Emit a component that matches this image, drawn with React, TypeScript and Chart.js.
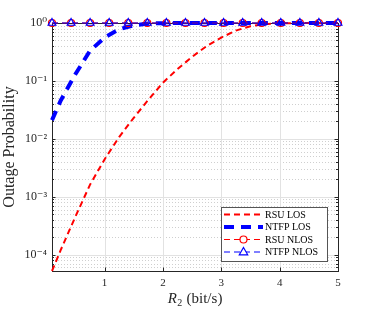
import React, { useEffect, useRef } from "react";
import { Chart, registerables } from "chart.js";

Chart.register(...registerables);

const rsuLosX = [0.1, 0.25, 0.5, 0.75, 1.0, 1.25, 1.5, 1.75, 2.0, 2.25, 2.5, 2.75, 3.0, 3.25, 3.5, 3.75, 4.0, 4.5, 5.0];
const rsuLosY = [5.2e-5, 1.2e-4, 4.5e-4, 1.6e-3, 4.4e-3, 1.07e-2, 2.3e-2, 4.7e-2, 9.3e-2, 0.16, 0.26, 0.4, 0.56, 0.74, 0.88, 0.955, 0.986, 0.999, 1.0];

const ntfpLosX = [0.1, 0.25, 0.5, 0.75, 1.0, 1.25, 1.5, 1.75, 2.0, 2.5, 3.0, 3.5, 4.0, 4.5, 5.0];
const ntfpLosY = [0.021, 0.046, 0.13, 0.33, 0.56, 0.78, 0.91, 0.977, 0.995, 1.0, 1.0, 1.0, 1.0, 1.0, 1.0];

const nlosX = [0.1, 0.427, 0.753, 1.08, 1.407, 1.733, 2.06, 2.387, 2.713, 3.04, 3.367, 3.693, 4.02, 4.347, 4.673, 5.0];
const rsuNlosY = [1, 1, 1, 1, 1, 1, 1, 1, 1, 1, 1, 1, 1, 1, 1, 1];
const ntfpNlosY = [1, 1, 1, 1, 1, 1, 1, 1, 1, 1, 1, 1, 1, 1, 1, 1];

const seriesLabels = ["RSU LOS", "NTFP LOS", "RSU NLOS", "NTFP NLOS"];
const xTicks = [1, 2, 3, 4, 5];
const yDecades = [1e-4, 1e-3, 1e-2, 1e-1, 1];
const yTickLabels = ["10\u207B\u2074", "10\u207B\u00B3", "10\u207B\u00B2", "10\u207B\u00B9", "10\u2070"];
const xTitleParts = ["R", "2", " (bit/s)"];
const yTitle = "Outage Probability";

const X_MIN = 0.1;
const X_MAX = 5;
const Y_MIN = 5.2e-5;
const Y_MAX = 1;

const FONT = "'Liberation Serif', 'DejaVu Serif', serif";
const AXIS_COLOR = "#262626";

const RED_DASH = [6, 4];
const BLUE_DASH = [10, 7];

const zip = (xs: number[], ys: number[]) => xs.map((x, i) => ({ x, y: ys[i] }));

const isDecade = (v: number) => {
  const l = Math.log10(v);
  return Math.abs(l - Math.round(l)) < 1e-6;
};

const minorValues = () => {
  const out: number[] = [];
  for (let e = -5; e <= 0; e++) {
    for (let m = 1; m <= 9; m++) {
      const v = m * Math.pow(10, e);
      if (v >= Y_MIN && v <= Y_MAX) out.push(v);
    }
  }
  return out;
};

const gridPlugin = {
  id: "matlabGrid",
  beforeDatasetsDraw(chart: any) {
    const { ctx, chartArea: a, scales } = chart;
    const xs = scales.x;
    const ys = scales.y;
    ctx.save();
    ctx.strokeStyle = "#cfcfcf";
    ctx.lineWidth = 1;
    ctx.setLineDash([1, 2]);
    for (const v of minorValues()) {
      if (isDecade(v)) continue;
      const y = Math.round(ys.getPixelForValue(v)) + 0.5;
      ctx.beginPath();
      ctx.moveTo(a.left, y);
      ctx.lineTo(a.right, y);
      ctx.stroke();
    }
    ctx.setLineDash([]);
    ctx.strokeStyle = "#e2e2e2";
    for (const v of yDecades) {
      const y = Math.round(ys.getPixelForValue(v)) + 0.5;
      ctx.beginPath();
      ctx.moveTo(a.left, y);
      ctx.lineTo(a.right, y);
      ctx.stroke();
    }
    for (const v of xTicks) {
      const x = Math.round(xs.getPixelForValue(v)) + 0.5;
      ctx.beginPath();
      ctx.moveTo(x, a.top);
      ctx.lineTo(x, a.bottom);
      ctx.stroke();
    }
    ctx.strokeStyle = AXIS_COLOR;
    ctx.lineWidth = 1;
    ctx.strokeRect(a.left + 0.5, a.top + 0.5, a.right - a.left, a.bottom - a.top);
    ctx.beginPath();
    for (const v of minorValues()) {
      const y = Math.round(ys.getPixelForValue(v)) + 0.5;
      const len = isDecade(v) ? 3.5 : 2;
      ctx.moveTo(a.left, y);
      ctx.lineTo(a.left + len, y);
      ctx.moveTo(a.right, y);
      ctx.lineTo(a.right - len, y);
    }
    for (const v of xTicks) {
      const x = Math.round(xs.getPixelForValue(v)) + 0.5;
      ctx.moveTo(x, a.bottom);
      ctx.lineTo(x, a.bottom - 3.5);
      ctx.moveTo(x, a.top);
      ctx.lineTo(x, a.top + 3.5);
    }
    ctx.stroke();
    ctx.restore();
  },
  afterDraw(chart: any) {
    const { ctx, chartArea: a } = chart;
    ctx.save();
    // x-axis title with italic R and subscript
    const big = 15;
    const small = 10;
    ctx.fillStyle = AXIS_COLOR;
    ctx.textBaseline = "alphabetic";
    ctx.textAlign = "left";
    ctx.font = "italic " + big + "px " + FONT;
    const wR = ctx.measureText(xTitleParts[0]).width;
    ctx.font = small + "px " + FONT;
    const w2 = ctx.measureText(xTitleParts[1]).width;
    ctx.font = big + "px " + FONT;
    const wRest = ctx.measureText(xTitleParts[2]).width;
    const total = wR + w2 + wRest + 1;
    const cx = (a.left + a.right) / 2;
    let x = cx - total / 2;
    const base = 303;
    ctx.font = "italic " + big + "px " + FONT;
    ctx.fillText(xTitleParts[0], x, base);
    x += wR + 0.5;
    ctx.font = small + "px " + FONT;
    ctx.fillText(xTitleParts[1], x, base + 3);
    x += w2 + 0.5;
    ctx.font = big + "px " + FONT;
    ctx.fillText(xTitleParts[2], x, base);

    // legend
    const bx = 221, by = 207, bw = 106, bh = 54;
    ctx.fillStyle = "#ffffff";
    ctx.fillRect(bx, by, bw, bh);
    ctx.strokeStyle = "#555555";
    ctx.lineWidth = 1;
    ctx.setLineDash([]);
    ctx.strokeRect(bx + 0.5, by + 0.5, bw, bh);
    const rows = [214.5, 227, 239.5, 252];
    const styles = [
      { color: "#ff0000", width: 2, dash: RED_DASH, marker: "" },
      { color: "#0000ff", width: 4, dash: BLUE_DASH, marker: "" },
      { color: "#ff0000", width: 1.2, dash: RED_DASH, marker: "circle" },
      { color: "#0000ff", width: 1.2, dash: RED_DASH, marker: "triangle" },
    ];
    chart.data.datasets.forEach((ds: any, i: number) => {
      const st = styles[i];
      const y = rows[i];
      const x0 = 224, x1 = 263;
      ctx.strokeStyle = st.color;
      ctx.lineWidth = st.width;
      ctx.setLineDash(st.dash);
      ctx.beginPath();
      ctx.moveTo(x0, y);
      ctx.lineTo(x1, y);
      ctx.stroke();
      ctx.setLineDash([]);
      const mx = (x0 + x1) / 2;
      if (st.marker === "circle") {
        ctx.fillStyle = "#ffffff";
        ctx.lineWidth = 1.2;
        ctx.beginPath();
        ctx.arc(mx, y, 3.5, 0, Math.PI * 2);
        ctx.fill();
        ctx.stroke();
      } else if (st.marker === "triangle") {
        ctx.fillStyle = "#ffffff";
        ctx.lineWidth = 1.2;
        ctx.beginPath();
        ctx.moveTo(mx, y - 4.5);
        ctx.lineTo(mx + 4.2, y + 2.8);
        ctx.lineTo(mx - 4.2, y + 2.8);
        ctx.closePath();
        ctx.fill();
        ctx.stroke();
      }
      ctx.fillStyle = "#000000";
      ctx.font = "10px " + FONT;
      ctx.textAlign = "left";
      ctx.textBaseline = "middle";
      ctx.fillText(ds.label, 265, y + 0.5);
    });
    ctx.restore();
  },
};

export default function App() {
  const ref = useRef<HTMLCanvasElement>(null);

  useEffect(() => {
    if (!ref.current) return;
    const chart = new Chart(ref.current, {
      type: "line",
      data: {
        datasets: [
          {
            label: seriesLabels[0],
            data: zip(rsuLosX, rsuLosY),
            borderColor: "#ff0000",
            borderWidth: 2,
            borderDash: RED_DASH,
            pointRadius: 0,
            tension: 0,
            fill: false,
            clip: false,
            order: 3,
          },
          {
            label: seriesLabels[1],
            data: zip(ntfpLosX, ntfpLosY),
            borderColor: "#0000ff",
            borderWidth: 4,
            borderDash: BLUE_DASH,
            pointRadius: 0,
            tension: 0,
            fill: false,
            clip: false,
            order: 2,
          },
          {
            label: seriesLabels[2],
            data: zip(nlosX, rsuNlosY),
            borderColor: "#ff0000",
            borderWidth: 1.2,
            borderDash: RED_DASH,
            pointStyle: "circle",
            pointRadius: 3.5,
            pointBorderWidth: 1.2,
            pointBorderColor: "#ff0000",
            pointBackgroundColor: "rgba(255,255,255,0)",
            tension: 0,
            fill: false,
            clip: false,
            order: 1,
          },
          {
            label: seriesLabels[3],
            data: zip(nlosX, ntfpNlosY),
            borderColor: "#0000ff",
            borderWidth: 1.2,
            borderDash: RED_DASH,
            pointStyle: "triangle",
            pointRadius: 4.5,
            pointBorderWidth: 1.2,
            pointBorderColor: "#0000ff",
            pointBackgroundColor: "rgba(255,255,255,0)",
            tension: 0,
            fill: false,
            clip: false,
            order: 0,
          },
        ],
      },
      options: {
        animation: false,
        responsive: false,
        maintainAspectRatio: false,
        events: [],
        layout: { padding: { top: 23, right: 36, left: 0, bottom: 0 } },
        plugins: {
          legend: { display: false },
          tooltip: { enabled: false },
        },
        scales: {
          x: {
            type: "linear",
            min: X_MIN,
            max: X_MAX,
            afterBuildTicks: (scale: any) => {
              scale.ticks = xTicks.map((v) => ({ value: v }));
            },
            afterFit: (scale: any) => {
              scale.height = 40;
            },
            grid: { display: false, drawTicks: false },
            border: { display: false },
            ticks: {
              autoSkip: false,
              maxRotation: 0,
              padding: 6,
              color: "#262626",
              font: { family: FONT, size: 11 },
              callback: (v: any) => String(v),
            },
            title: { display: false },
          },
          y: {
            type: "logarithmic",
            min: Y_MIN,
            max: Y_MAX,
            afterBuildTicks: (scale: any) => {
              scale.ticks = yDecades.map((v) => ({ value: v }));
            },
            afterFit: (scale: any) => {
              scale.width = 52;
            },
            grid: { display: false, drawTicks: false },
            border: { display: false },
            ticks: {
              autoSkip: false,
              padding: 5,
              color: "#262626",
              font: { family: FONT, size: 12 },
              callback: (v: any) => {
                const i = yDecades.findIndex((d) => Math.abs(Math.log10(d) - Math.log10(Number(v))) < 1e-6);
                return i >= 0 ? yTickLabels[i] : "";
              },
            },
            title: {
              display: true,
              text: yTitle,
              color: "#262626",
              font: { family: FONT, size: 16 },
              padding: { top: 0, bottom: 0 },
            },
          },
        },
      },
      plugins: [gridPlugin],
    } as any);
    return () => chart.destroy();
  }, []);

  return (
    <div style={{ position: "absolute", left: 0, top: 0, width: 374, height: 311, background: "#ffffff" }}>
      <canvas ref={ref} width={374} height={311} style={{ display: "block" }} />
    </div>
  );
}
